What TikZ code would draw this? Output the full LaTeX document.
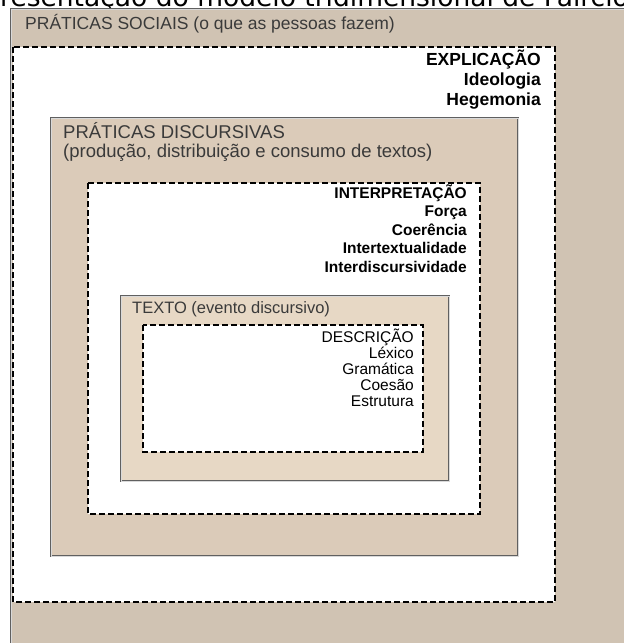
\documentclass[tikz,border=0pt]{standalone}
\usepackage{fontspec}
\setmainfont{Liberation Sans}
\newfontfamily\headfont{DejaVu Sans}
\definecolor{tanouter}{RGB}{208,195,179}
\definecolor{tandisc}{RGB}{219,203,185}
\definecolor{tantext}{RGB}{231,216,197}
\definecolor{labelgray}{RGB}{58,58,58}

\begin{document}
\begin{tikzpicture}[x=1pt,y=-1pt,
  framebox/.style={draw=gray!75!black,double=gray!30,double distance=0.7pt,line width=0.6pt},
  dashbox/.style={draw=black,fill=white,line width=1.2pt,dash pattern=on 6pt off 3pt},
  layer/.style={anchor=base west,inner sep=0pt,text=labelgray},
  keyword/.style={anchor=base east,inner sep=0pt}]
  \useasboundingbox (0,0) rectangle (624,643);
  % title, cut off at the top edge
  \node[anchor=base west,inner sep=0pt,font=\headfont\fontsize{26.5}{30}\selectfont] (title) at (0,6)
  {\llap{Rep}resentação do modelo tridimensional de Fairclough};
  % praticas sociais
  \draw[framebox,fill=tanouter] (11,9) rectangle (660,680);
  \node[layer,font=\fontsize{17.5}{20}\selectfont] (social) at (25,29)
  {PRÁTICAS SOCIAIS (o que as pessoas fazem)};
  \draw[dashbox] (13,47) rectangle (555,602);
  \foreach \word [count=\i from 0] in {EXPLICAÇÃO,Ideologia,Hegemonia}
    \node[keyword,font=\bfseries\fontsize{17.5}{20}\selectfont] (expl\i) at (541,65+20*\i) {\word};
  % praticas discursivas
  \draw[framebox,fill=tandisc] (51,118) rectangle (518,556);
  \node[layer,font=\fontsize{18.5}{20}\selectfont] (disc) at (63,138) {PRÁTICAS DISCURSIVAS};
  \node[layer,font=\fontsize{18.5}{20}\selectfont] (discsub) at (63,157)
  {(produção, distribuição e consumo de textos)};
  \draw[dashbox] (88,183) rectangle (480,514);
  \foreach \word [count=\i from 0] in {INTERPRETAÇÃO,Força,Coerência,Intertextualidade,Interdiscursividade}
    \node[keyword,font=\bfseries\fontsize{15.5}{18}\selectfont] (interp\i) at (467,198+18.5*\i) {\word};
  % texto
  \draw[framebox,fill=tantext] (121,296) rectangle (449,481);
  \node[layer,font=\fontsize{16.5}{18}\selectfont] (texto) at (132,313) {TEXTO (evento discursivo)};
  \draw[dashbox] (143,325) rectangle (423,452);
  \foreach \word [count=\i from 0] in {DESCRIÇÃO,Léxico,Gramática,Coesão,Estrutura}
    \node[keyword,font=\fontsize{15.5}{17}\selectfont] (descr\i) at (414,342+16*\i) {\word};
\end{tikzpicture}
\end{document}
